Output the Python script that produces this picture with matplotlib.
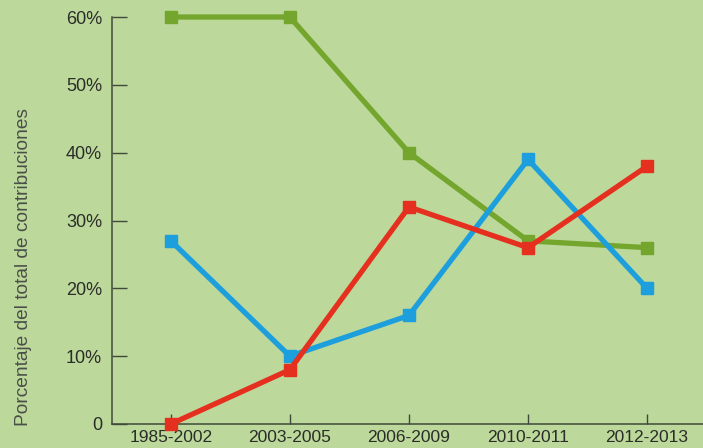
import numpy as np
import matplotlib
matplotlib.use("Agg")
import matplotlib.pyplot as plt

periods = ["1985-2002", "2003-2005", "2006-2009", "2010-2011", "2012-2013"]
green_vals = [60, 60, 40, 27, 26]
blue_vals = [27, 10, 16, 39, 20]
red_vals = [0, 8, 32, 26, 38]
yticks = [0, 10, 20, 30, 40, 50, 60]
ytick_labels = ["0", "10%", "20%", "30%", "40%", "50%", "60%"]

plt.rcParams["font.family"] = ["Liberation Sans", "DejaVu Sans"]

bg = "#bcd89b"
fig = plt.figure(figsize=(7.03, 4.48), dpi=100, facecolor=bg)
ax = fig.add_axes([0.159, 0.0536, 0.841, 0.9084], facecolor=bg)

x = np.arange(len(periods))
for vals, col in [(green_vals, "#74a62e"), (blue_vals, "#1c9fdc"), (red_vals, "#e5301f")]:
    ax.plot(x, vals, color=col, lw=3.8, marker="s", ms=9, clip_on=False, zorder=3)

ax.set_xlim(-0.496, 4.47)
ax.set_ylim(0, 60)
ax.set_yticks(yticks)
ax.set_yticklabels(ytick_labels)
ax.set_xticks(x)
ax.set_xticklabels(periods)

for s in ["top", "right"]:
    ax.spines[s].set_visible(False)
for s in ["left", "bottom"]:
    ax.spines[s].set_color("#3f4a3a")
    ax.spines[s].set_linewidth(1.1)

ax.tick_params(axis="y", direction="in", length=11, width=1.0, color="#3f4a3a",
               labelsize=13, labelcolor="#2a2d28", pad=7)
ax.tick_params(axis="x", direction="in", length=7, width=1.0, color="#3f4a3a",
               labelsize=12.5, labelcolor="#2a2d28", pad=4)

fig.text(0.033, 0.404, "Porcentaje del total de contribuciones", rotation=90,
         ha="center", va="center", fontsize=13.8, color="#4a4f48")

fig.savefig("out.png", dpi=100, facecolor=bg)
